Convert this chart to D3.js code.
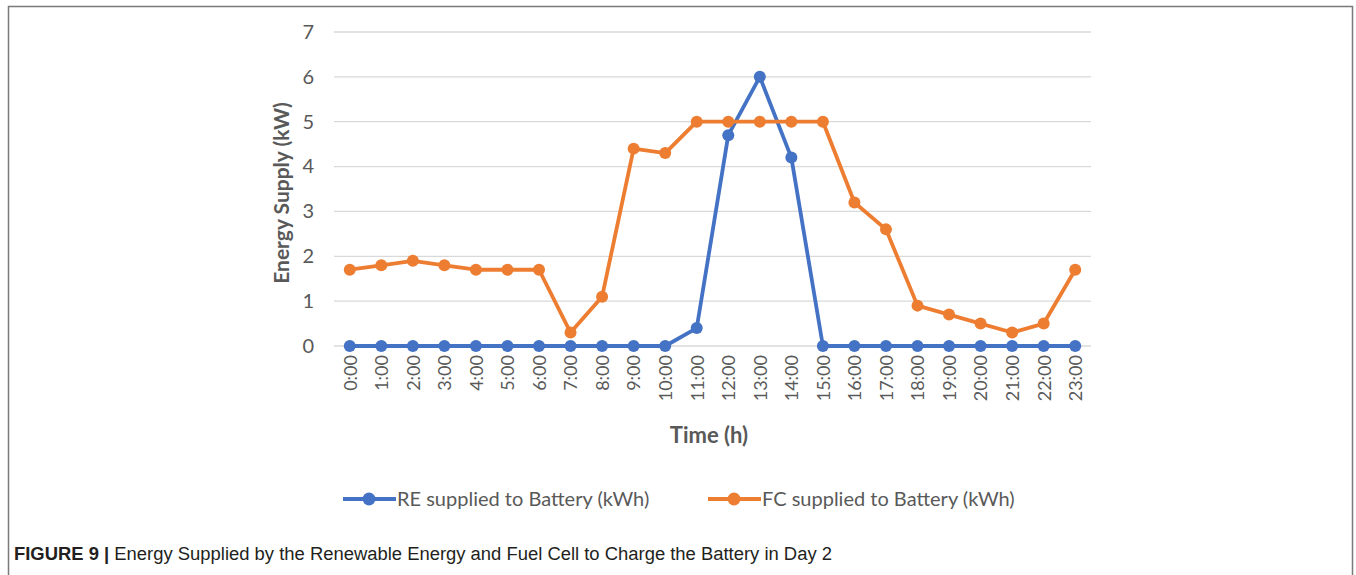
<!DOCTYPE html>
<html><head><meta charset="utf-8">
<script src="https://cdn.jsdelivr.net/npm/d3@7/dist/d3.min.js"></script>
<style>body{margin:0;background:#fff}svg{display:block}</style>
</head><body>
<script>
const hours = ["0:00","1:00","2:00","3:00","4:00","5:00","6:00","7:00","8:00","9:00","10:00","11:00","12:00","13:00","14:00","15:00","16:00","17:00","18:00","19:00","20:00","21:00","22:00","23:00"];
const reValues = [0,0,0,0,0,0,0,0,0,0,0,0.4,4.7,6,4.2,0,0,0,0,0,0,0,0,0];
const fcValues = [1.7,1.8,1.9,1.8,1.7,1.7,1.7,0.3,1.1,4.4,4.3,5,5,5,5,5,3.2,2.6,0.9,0.7,0.5,0.3,0.5,1.7];
const yTicks = [0,1,2,3,4,5,6,7];
const seriesNames = ["RE supplied to Battery (kWh)","FC supplied to Battery (kWh)"];
const colors = ["#4472C4","#ED7D31"];

(function(){
const W=1356,H=575;
const svg=d3.select("body").append("svg").attr("width",W).attr("height",H);
svg.append("path").attr("d",`M8.5,${H} L8.5,6.5 L1352.5,6.5 L1352.5,${H}`)
  .attr("fill","none").attr("stroke","#7a7a7a").attr("stroke-width",1.5);

const pL=334,pR=1091,pT=32,pB=346;
const x=d3.scalePoint().domain(hours).range([pL,pR]).padding(0.5);
const y=d3.scaleLinear().domain([0,7]).range([pB,pT]);
const font="Lato, 'Open Sans', sans-serif";

svg.append("g").selectAll("line").data(yTicks).join("line")
  .attr("x1",pL).attr("x2",pR).attr("y1",d=>y(d)).attr("y2",d=>y(d))
  .attr("stroke","#d9d9d9").attr("stroke-width",1.3);

const ya=svg.append("g").attr("transform",`translate(${pL},0)`)
  .call(d3.axisLeft(y).tickValues(yTicks).tickFormat(d3.format("d")).tickSize(0).tickPadding(20));
ya.select(".domain").remove();
ya.selectAll("text").attr("font-family",font).attr("font-size",20).attr("fill","#595959");

const xa=svg.append("g").attr("transform",`translate(0,${pB})`)
  .call(d3.axisBottom(x).tickSize(0));
xa.select(".domain").remove();
xa.selectAll("text").attr("font-family",font).attr("font-size",18).attr("fill","#595959")
  .attr("transform","rotate(-90)").attr("text-anchor","end").attr("dy","0.35em").attr("dx",0)
  .attr("x",-9).attr("y",0);

svg.append("text").attr("transform","translate(282,193) rotate(-90)").attr("text-anchor","middle")
  .attr("dy","0.35em")
  .attr("font-family",font).attr("font-weight","bold").attr("font-size",21).attr("fill","#595959")
  .text("Energy Supply (kW)");
svg.append("text").attr("x",709).attr("y",443).attr("text-anchor","middle")
  .attr("font-family",font).attr("font-weight","bold").attr("font-size",22).attr("fill","#595959")
  .text("Time (h)");

const series=[reValues,fcValues];
const line=d3.line().x((d,i)=>x(hours[i])).y(d=>y(d));
series.forEach((vals,k)=>{
  const g=svg.append("g");
  g.append("path").datum(vals).attr("d",line).attr("fill","none")
    .attr("stroke",colors[k]).attr("stroke-width",3.8).attr("stroke-linejoin","round");
  g.selectAll("circle").data(vals).join("circle")
    .attr("cx",(d,i)=>x(hours[i])).attr("cy",d=>y(d)).attr("r",6).attr("fill",colors[k]);
});

const legX=[343,708];
seriesNames.forEach((n,k)=>{
  const g=svg.append("g").attr("transform",`translate(${legX[k]},499)`);
  g.append("line").attr("x1",0).attr("x2",53).attr("stroke",colors[k]).attr("stroke-width",4);
  g.append("circle").attr("cx",26).attr("r",6.5).attr("fill",colors[k]);
  g.append("text").attr("x",54).attr("dy","0.35em").attr("font-family",font).attr("font-size",20)
    .attr("fill","#595959").text(n);
});

const cap=svg.append("text").attr("x",14).attr("y",560)
  .attr("font-family","'Liberation Sans Narrow', 'Liberation Sans', Arial, sans-serif")
  .attr("font-size",18).attr("fill","#231f20")
  .attr("textLength",818).attr("lengthAdjust","spacingAndGlyphs");
cap.append("tspan").attr("font-weight","bold").text("FIGURE 9 | ");
cap.append("tspan").text("Energy Supplied by the Renewable Energy and Fuel Cell to Charge the Battery in Day 2");
})();
</script>
</body></html>
